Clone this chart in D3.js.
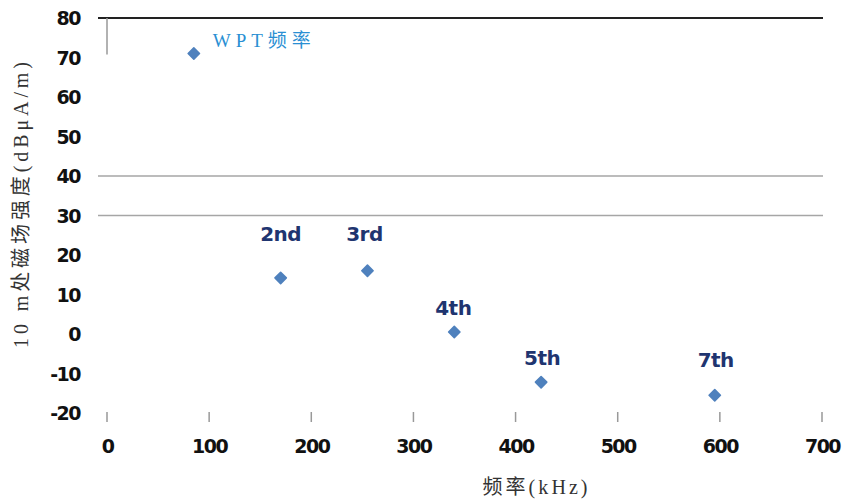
<!DOCTYPE html>
<html><head><meta charset="utf-8">
<script src="https://cdn.jsdelivr.net/npm/d3@7"></script>
<style>body{margin:0;background:#fff}</style>
</head><body><svg id="c" width="845" height="502"></svg>
<script>
const labels = ["WPT频率", "2nd", "3rd", "4th", "5th", "7th"];
const freqs = [85, 170, 255, 340, 425, 595];
const fields = [71, 14.2, 16, 0.5, -12.2, -15.5];
const yTicks = [80, 70, 60, 50, 40, 30, 20, 10, 0, -10, -20];
const xTicks = [0, 100, 200, 300, 400, 500, 600, 700];
const gridVals = [80, 40, 30];

const svg = d3.select("#c");
const x = d3.scaleLinear().domain([0, 700]).range([107, 822]);
const y = d3.scaleLinear().domain([-20, 80]).range([413, 18]);
const tickFont = "'DejaVu Sans', sans-serif";

// gridlines
svg.selectAll(".grid").data(gridVals).join("line")
  .attr("x1", 98).attr("x2", 823)
  .attr("y1", d => y(d)).attr("y2", d => y(d))
  .attr("stroke", d => d === 80 ? "#222" : "#a6a6a6")
  .attr("stroke-width", d => d === 80 ? 2 : 1.6);

// short vertical axis segment
svg.append("line").attr("x1", x(0)).attr("x2", x(0))
  .attr("y1", y(80)).attr("y2", y(70) - 3)
  .attr("stroke", "#999").attr("stroke-width", 1.5);

// y tick labels
const yAxis = d3.axisLeft(y).tickValues(yTicks).tickSize(0).tickPadding(0).tickFormat(d => String(d));
const gy = svg.append("g").attr("transform", "translate(80,0)").call(yAxis);
gy.select(".domain").remove();
gy.selectAll("text").attr("font-family", tickFont)
  .attr("font-size", 19).attr("font-weight", "bold").attr("fill", "#111")
  .attr("dy", "0.35em").attr("letter-spacing", "-1.5");

// x ticks
const xAxis = d3.axisBottom(x).tickValues(xTicks).tickSize(0).tickPadding(0).tickFormat(d => String(d));
const gx = svg.append("g").attr("transform", "translate(0,446)").call(xAxis);
gx.select(".domain").remove();
gx.selectAll("text").attr("font-family", tickFont)
  .attr("font-size", 19).attr("font-weight", "bold").attr("fill", "#111")
  .attr("dy", "0.35em").attr("letter-spacing", "-1.5");
svg.selectAll(".xt").data(xTicks).join("line")
  .attr("x1", d => x(d)).attr("x2", d => x(d)).attr("y1", 412).attr("y2", 422)
  .attr("stroke", "#999").attr("stroke-width", 1.5);

// markers
const sq = d3.symbol().type(d3.symbolSquare).size(64);
svg.selectAll(".pt").data(freqs).join("path")
  .attr("d", sq)
  .attr("transform", (d, i) => `translate(${x(d)},${y(fields[i])}) rotate(45)`)
  .attr("fill", "#4f81bd").attr("stroke", "#4f81bd").attr("stroke-width", 1.6)
  .attr("stroke-linejoin", "round");

// point labels
const lblOff = [[19, -11, "start"], [0, -42, "middle"], [-3, -35, "middle"], [-1, -23, "middle"], [1, -23, "middle"], [1, -34, "middle"]];
svg.selectAll(".lbl").data(labels).join("text")
  .attr("x", (d, i) => x(freqs[i]) + lblOff[i][0])
  .attr("y", (d, i) => y(fields[i]) + lblOff[i][1])
  .attr("text-anchor", (d, i) => lblOff[i][2])
  .attr("dominant-baseline", "middle")
  .attr("font-family", (d, i) => i === 0 ? "Liberation Serif, Noto Sans CJK SC, serif" : "DejaVu Sans, sans-serif")
  .attr("font-size", (d, i) => i === 0 ? 19 : 20)
  .attr("font-weight", (d, i) => i === 0 ? "normal" : "bold")
  .attr("letter-spacing", (d, i) => i === 0 ? null : "-0.5")
  .attr("fill", (d, i) => i === 0 ? "#2a8fd3" : "#1f3570")
  .each(function(d, i) {
    if (i === 0) d3.select(this).attr("textLength", 98).attr("lengthAdjust", "spacing");
  })
  .text(d => d);

// axis titles
svg.append("text")
  .attr("transform", "translate(28,205) rotate(-90)")
  .attr("text-anchor", "middle")
  .attr("font-family", "Liberation Serif, Noto Sans CJK SC, serif")
  .attr("font-size", 20).attr("fill", "#333")
  .attr("textLength", 286).attr("lengthAdjust", "spacing")
  .text("10 m处磁场强度(dBμA/m)");
svg.append("text")
  .attr("x", 535).attr("y", 494)
  .attr("text-anchor", "middle")
  .attr("font-family", "Liberation Serif, Noto Sans CJK SC, serif")
  .attr("font-size", 20).attr("fill", "#333")
  .attr("textLength", 105).attr("lengthAdjust", "spacing")
  .text("频率(kHz)");
</script></body></html>
